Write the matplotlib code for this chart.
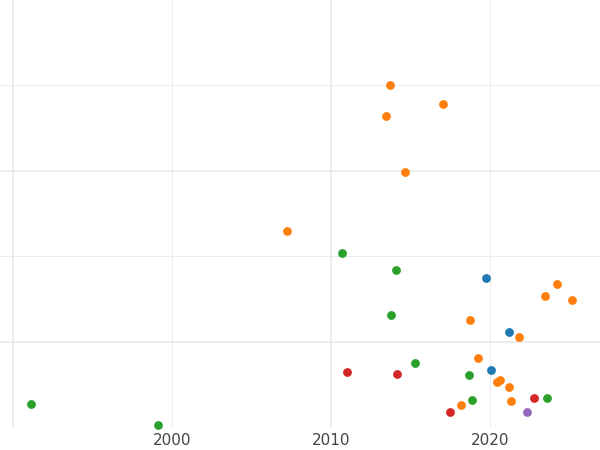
import matplotlib
matplotlib.use("Agg")
import matplotlib.pyplot as plt

orange_x = [2013.7, 2017.0, 2013.46, 2014.65, 2007.23, 2024.21, 2023.46, 2025.16, 2018.74, 2021.82, 2019.25, 2020.63, 2020.44, 2021.19, 2018.18, 2021.32]
orange_y = [4.0, 3.78, 3.64, 2.99, 2.29, 1.67, 1.54, 1.49, 1.25, 1.06, 0.81, 0.55, 0.53, 0.47, 0.26, 0.30]
green_x = [1991.13, 1999.12, 2010.69, 2014.09, 2013.77, 2015.28, 2018.68, 2018.87, 2023.58]
green_y = [0.27, 0.02, 2.04, 1.84, 1.31, 0.75, 0.61, 0.32, 0.34]
blue_x = [2019.75, 2021.19, 2020.06]
blue_y = [1.75, 1.11, 0.67]
red_x = [2011.0, 2014.15, 2017.48, 2022.77]
red_y = [0.65, 0.62, 0.18, 0.34]
purple_x = [2022.33]
purple_y = [0.18]
xticks = [2000, 2010, 2020]

fig = plt.figure(figsize=(6, 4.5), dpi=100)
ax = fig.add_axes([0, 0.051, 1, 0.949])
ax.set_xlim(1989.18, 2026.9)
ax.set_ylim(0, 5)
for x, lw in [(1990, 1.3), (2000, 0.7), (2010, 1.3), (2020, 0.7)]:
    ax.axvline(x, color="#ebebeb", lw=lw, zorder=0)
for y, lw in [(1, 1.3), (2, 0.7), (3, 1.3), (4, 0.7)]:
    ax.axhline(y, color="#ebebeb", lw=lw, zorder=0)
for xs, ys, c in [(orange_x, orange_y, "#ff7f0e"), (green_x, green_y, "#2ca02c"),
                  (blue_x, blue_y, "#1f77b4"), (red_x, red_y, "#d62728"),
                  (purple_x, purple_y, "#9467bd")]:
    ax.scatter(xs, ys, s=40, color=c, zorder=3, clip_on=False, linewidths=0)
ax.set_xticks(xticks)
ax.set_xticklabels([str(t) for t in xticks], fontsize=11, color="#444444")
ax.set_yticks([])
ax.tick_params(axis="x", length=0, pad=4)
for s in ax.spines.values():
    s.set_visible(False)
fig.savefig("out.png", dpi=100)
